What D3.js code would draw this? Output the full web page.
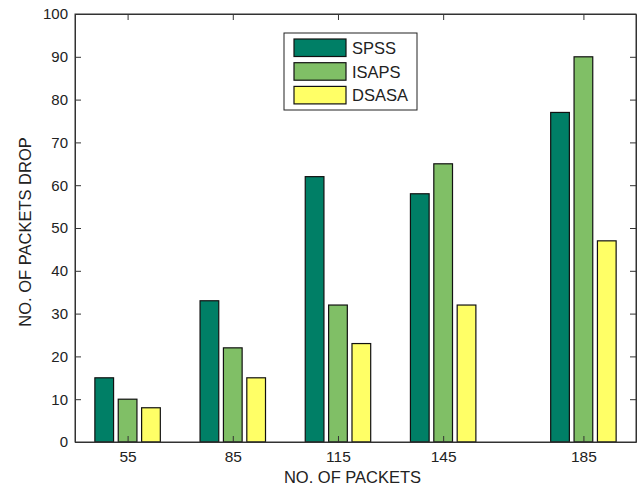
<!DOCTYPE html>
<html lang="en">
<head>
<meta charset="utf-8">
<title>Packets drop</title>
<script src="https://cdn.jsdelivr.net/npm/d3@7"></script>
<style>
  body { margin: 0; background: #fff; }
  svg text { font-family: "Liberation Sans", Arial, sans-serif; fill: #222; }
  .axis path, .axis line { stroke: #333; }
</style>
</head>
<body>
<svg id="chart" width="642" height="488"></svg>
<script>

// data
var packets = [55, 85, 115, 145, 185];
var seriesNames = ["SPSS", "ISAPS", "DSASA"];
var spss  = [15, 33, 62, 58, 77];
var isaps = [10, 22, 32, 65, 90];
var dsasa = [8, 15, 23, 32, 47];
var yTicks = [0, 10, 20, 30, 40, 50, 60, 70, 80, 90, 100];
var colors = ["#007f66", "#80bf66", "#ffff66"];

var series = [spss, isaps, dsasa];

var svg = d3.select("#chart");
var margin = {left: 75, right: 6, top: 14, bottom: 46};
var width = 642 - margin.left - margin.right,
    height = 488 - margin.top - margin.bottom;

var g = svg.append("g")
    .attr("transform", "translate(" + margin.left + "," + margin.top + ")");

var x = d3.scaleLinear().domain([40, 200]).range([0, width]);
var y = d3.scaleLinear().domain([0, 100]).range([height, 0]);

// matlab style grouped bars: group width 2/3 of the spacing
var spacing = 30;
var step = spacing * (2 / 3) / seriesNames.length;
var barW = step * 0.8;

series.forEach(function(vals, si) {
  g.append("g").selectAll("rect")
    .data(vals)
    .enter().append("rect")
      .attr("x", function(d, i) { return x(packets[i] + (si - 1) * step - barW / 2); })
      .attr("width", x(barW) - x(0))
      .attr("y", function(d) { return y(d); })
      .attr("height", function(d) { return y(0) - y(d); })
      .attr("fill", colors[si])
      .attr("stroke", "#111")
      .attr("stroke-width", 1.2);
});

// axes, ticks inside on all four sides
var tickLen = 6;
g.append("g").attr("class", "axis")
    .attr("transform", "translate(0," + height + ")")
    .call(d3.axisBottom(x).tickValues(packets).tickSize(-tickLen).tickPadding(9).tickSizeOuter(0))
    .call(function(a) { a.selectAll("text").attr("font-size", 15.5); a.attr("font-family", null); });

g.append("g").attr("class", "axis")
    .call(d3.axisTop(x).tickValues(packets).tickSize(-tickLen).tickFormat("").tickSizeOuter(0));

g.append("g").attr("class", "axis")
    .call(d3.axisLeft(y).tickValues(yTicks).tickSize(-tickLen).tickPadding(7).tickSizeOuter(0))
    .call(function(a) { a.selectAll("text").attr("font-size", 15); a.attr("font-family", null); });

g.append("g").attr("class", "axis")
    .attr("transform", "translate(" + width + ",0)")
    .call(d3.axisRight(y).tickValues(yTicks).tickSize(-tickLen).tickFormat("").tickSizeOuter(0));

g.append("rect")
    .attr("width", width).attr("height", height)
    .attr("fill", "none").attr("stroke", "#333");

// axis titles
svg.append("text")
    .attr("x", margin.left + width / 2 - 3)
    .attr("y", 483)
    .attr("text-anchor", "middle")
    .attr("font-size", 16.5)
    .text("NO. OF PACKETS");

svg.append("text")
    .attr("transform", "translate(31," + (margin.top + height / 2 + 4) + ") rotate(-90)")
    .attr("text-anchor", "middle")
    .attr("font-size", 16.5)
    .text("NO. OF PACKETS DROP");

// legend
var legend = svg.append("g").attr("transform", "translate(284,33)");
legend.append("rect")
    .attr("width", 133).attr("height", 77)
    .attr("fill", "#fff").attr("stroke", "#222");

var item = legend.selectAll("g.item")
    .data(seriesNames)
    .enter().append("g")
      .attr("class", "item")
      .attr("transform", function(d, i) { return "translate(10," + (6 + i * 23.7) + ")"; });

item.append("rect")
    .attr("width", 52).attr("height", 17.5)
    .attr("fill", function(d, i) { return colors[i]; })
    .attr("stroke", "#111").attr("stroke-width", 1.2);

item.append("text")
    .attr("x", 58).attr("y", 15)
    .attr("font-size", 16.5)
    .text(function(d) { return d; });

</script>
</body>
</html>
